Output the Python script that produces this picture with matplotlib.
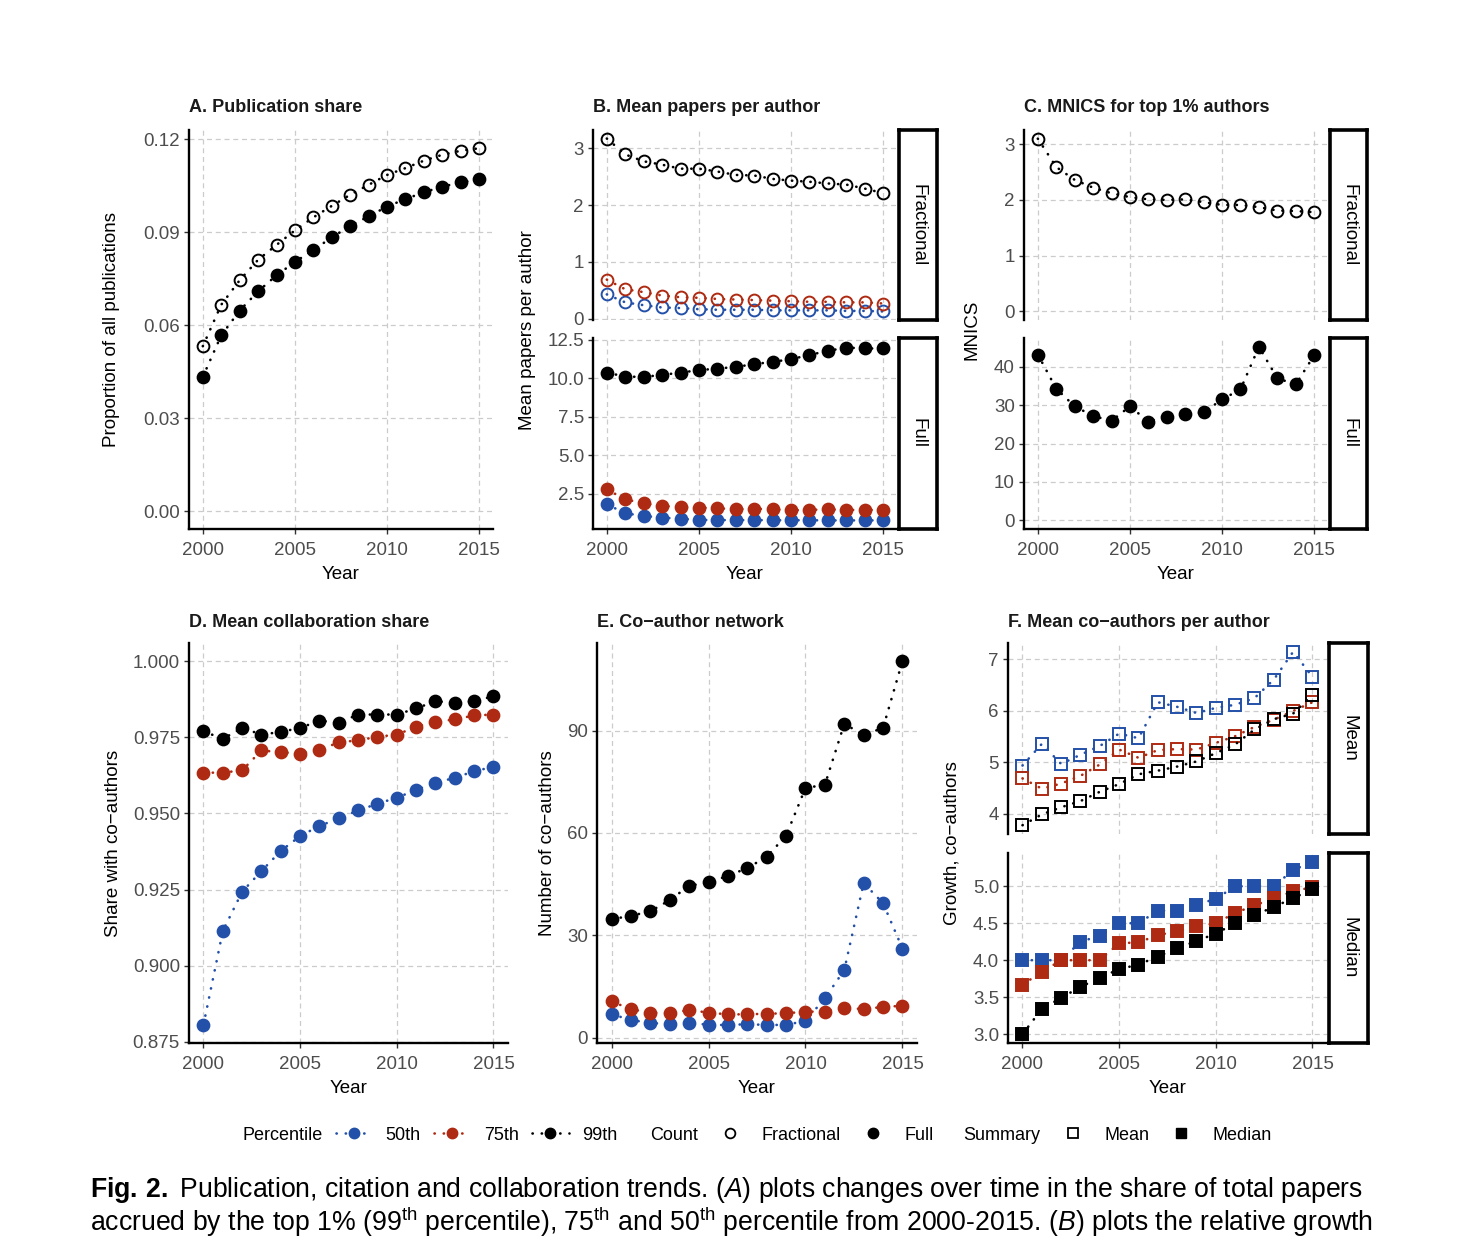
import numpy as np
import matplotlib
matplotlib.use('Agg')
import matplotlib.pyplot as plt
from matplotlib.lines import Line2D

plt.rcParams['font.family'] = ['Liberation Sans', 'DejaVu Sans']
plt.rcParams['mathtext.fontset'] = 'custom'
plt.rcParams['mathtext.rm'] = 'Liberation Sans'
plt.rcParams['mathtext.it'] = 'Liberation Sans:italic'
plt.rcParams['mathtext.bf'] = 'Liberation Sans:bold'

years = np.arange(2000, 2016)

# A. publication share (99th)
a_frac = [0.0532, 0.0666, 0.0745, 0.0811, 0.0859, 0.0906, 0.0948, 0.0985,
          0.1021, 0.1053, 0.1085, 0.1107, 0.1131, 0.1150, 0.1163, 0.1171]
a_full = [0.0433, 0.0567, 0.0647, 0.0709, 0.0761, 0.0804, 0.0843, 0.0883,
          0.0921, 0.0951, 0.0983, 0.1007, 0.1029, 0.1047, 0.1061, 0.1071]

# B. mean papers per author
b_frac_99 = [3.17, 2.89, 2.77, 2.71, 2.64, 2.64, 2.59, 2.53, 2.52, 2.46, 2.43, 2.41, 2.38, 2.36, 2.29, 2.21]
b_frac_75 = [0.69, 0.52, 0.47, 0.41, 0.38, 0.37, 0.35, 0.34, 0.33, 0.32, 0.31, 0.30, 0.30, 0.29, 0.29, 0.27]
b_frac_50 = [0.43, 0.29, 0.24, 0.20, 0.19, 0.17, 0.16, 0.16, 0.16, 0.15, 0.15, 0.15, 0.15, 0.14, 0.14, 0.13]
b_full_99 = [10.37, 10.11, 10.09, 10.22, 10.37, 10.53, 10.63, 10.74, 10.92, 11.07, 11.24, 11.52, 11.78, 12.0, 11.94, 11.94]
b_full_75 = [2.78, 2.13, 1.87, 1.70, 1.63, 1.59, 1.55, 1.48, 1.52, 1.48, 1.42, 1.44, 1.48, 1.44, 1.44, 1.44]
b_full_50 = [1.81, 1.22, 1.05, 0.94, 0.87, 0.79, 0.78, 0.78, 0.78, 0.77, 0.77, 0.77, 0.76, 0.76, 0.76, 0.76]

# C. MNICS for top 1%
c_frac = [3.10, 2.59, 2.36, 2.22, 2.12, 2.05, 2.01, 2.00, 2.01, 1.96, 1.91, 1.91, 1.87, 1.81, 1.80, 1.78]
c_full = [43.2, 34.3, 29.7, 27.2, 25.9, 29.7, 25.7, 27.0, 27.6, 28.1, 31.5, 34.1, 45.2, 37.0, 35.4, 43.0]

# D. mean collaboration share
d_99 = [0.9770, 0.9745, 0.9781, 0.9759, 0.9768, 0.9781, 0.9805, 0.9798,
        0.9825, 0.9825, 0.9825, 0.9845, 0.9869, 0.9863, 0.9869, 0.9885]
d_75 = [0.9634, 0.9634, 0.9642, 0.9707, 0.9701, 0.9697, 0.9708, 0.9734,
        0.9740, 0.9752, 0.9759, 0.9785, 0.9801, 0.9809, 0.9822, 0.9825]
d_50 = [0.8806, 0.9114, 0.9243, 0.9311, 0.9377, 0.9426, 0.9459, 0.9484,
        0.9510, 0.9532, 0.9552, 0.9577, 0.9601, 0.9617, 0.9639, 0.9653]

# E. co-author network
e_99 = [34.7, 35.7, 37.0, 40.3, 44.5, 45.5, 47.4, 49.7, 53.0, 59.2, 73.2, 74.1, 92.0, 88.7, 90.8, 110.4]
e_75 = [10.6, 8.3, 7.3, 7.1, 8.1, 7.3, 6.8, 6.8, 7.0, 7.1, 7.6, 7.6, 8.8, 8.3, 9.0, 9.3]
e_50 = [6.8, 5.2, 4.2, 4.1, 4.4, 3.7, 3.7, 3.9, 3.7, 3.7, 4.9, 11.5, 19.8, 45.3, 39.4, 26.1]

# F. mean co-authors per author
f_mean_50 = [4.94, 5.36, 4.97, 5.15, 5.32, 5.56, 5.47, 6.17, 6.08, 5.96, 6.06, 6.12, 6.25, 6.61, 7.15, 6.66]
f_mean_75 = [4.69, 4.49, 4.59, 4.74, 4.96, 5.25, 5.09, 5.24, 5.26, 5.25, 5.38, 5.51, 5.69, 5.83, 6.00, 6.17]
f_mean_99 = [3.78, 3.99, 4.13, 4.25, 4.43, 4.58, 4.77, 4.84, 4.92, 5.02, 5.18, 5.35, 5.64, 5.84, 5.95, 6.31]
f_med_50 = [4.0, 4.0, 4.0, 4.25, 4.33, 4.5, 4.5, 4.67, 4.67, 4.75, 4.83, 5.0, 5.0, 5.0, 5.22, 5.33]
f_med_75 = [3.67, 3.84, 4.0, 4.0, 4.0, 4.23, 4.24, 4.34, 4.39, 4.46, 4.5, 4.64, 4.74, 4.84, 4.93, 4.99]
f_med_99 = [3.0, 3.34, 3.49, 3.64, 3.76, 3.88, 3.94, 4.05, 4.16, 4.26, 4.36, 4.5, 4.61, 4.72, 4.84, 4.96]

BLUE = '#2350A8'
RED = '#AE2A12'
BLACK = '#000000'
TICKC = '#4D4D4D'

W, H = 1475, 1239
fig = plt.figure(figsize=(W / 100, H / 100), dpi=100)


def px_axes(l, t, r, b):
    return fig.add_axes([l / W, 1 - b / H, (r - l) / W, (b - t) / H])


def style(ax, ylim, yticks, ylabels, show_x=True):
    ax.set_xlim(1999.25, 2015.75)
    ax.set_xticks([2000, 2005, 2010, 2015])
    ax.set_ylim(*ylim)
    ax.set_yticks(yticks)
    ax.set_yticklabels(ylabels)
    ax.grid(True, color='#CCCCCC', linestyle=(0, (4, 3)), lw=0.9)
    ax.set_axisbelow(True)
    ax.spines['top'].set_visible(False)
    ax.spines['right'].set_visible(False)
    ax.spines['left'].set_linewidth(1.7)
    ax.spines['bottom'].set_linewidth(1.7)
    ax.tick_params(labelsize=13.5, labelcolor=TICKC, color='#333333', length=3.5, width=1, pad=3)
    ax.tick_params(axis='x', pad=6)
    if show_x:
        ax.set_xlabel('Year', fontsize=13.5, labelpad=5)
    else:
        ax.spines['bottom'].set_visible(False)
        ax.tick_params(axis='x', length=0, labelbottom=False)


def series(ax, y, color, marker='o', filled=True, ms=8.5):
    ax.plot(years, y, linestyle=(0, (0.1, 3.4)), dash_capstyle='round', lw=1.9,
            color=color, marker=marker, ms=ms,
            mfc=color if filled else 'none', mec=color, mew=1.4, zorder=3)


def strip(l, t, r, b, label):
    sx = px_axes(l, t, r, b)
    sx.set_xticks([])
    sx.set_yticks([])
    for s in sx.spines.values():
        s.set_linewidth(2.6)
    sx.text(0.5, 0.5, label, rotation=270, ha='center', va='center', fontsize=13.5,
            transform=sx.transAxes)


# Panel A
ax = px_axes(189, 130, 493, 529)
series(ax, a_frac, BLACK, 'o', False, 8.5)
series(ax, a_full, BLACK, 'o', True)
style(ax, (-0.0058, 0.123), [0, 0.03, 0.06, 0.09, 0.12], ['0.00', '0.03', '0.06', '0.09', '0.12'])
ax.set_ylabel('Proportion of all publications', fontsize=13.5, labelpad=17)
fig.text(189 / W, 1 - 112 / H, 'A. Publication share', fontsize=13, fontweight='bold', color='#1a1a1a')

# Panel B
ax1 = px_axes(593, 130, 897, 320)
series(ax1, b_frac_50, BLUE, 'o', False, 8.5)
series(ax1, b_frac_75, RED, 'o', False, 8.5)
series(ax1, b_frac_99, BLACK, 'o', False, 8.5)
style(ax1, (-0.02, 3.32), [0, 1, 2, 3], ['0', '1', '2', '3'], show_x=False)
ax2 = px_axes(593, 338, 897, 529)
series(ax2, b_full_50, BLUE)
series(ax2, b_full_75, RED)
series(ax2, b_full_99, BLACK)
style(ax2, (0.2, 12.62), [2.5, 5, 7.5, 10, 12.5], ['2.5', '5.0', '7.5', '10.0', '12.5'])
strip(899, 130, 937, 320, 'Fractional')
strip(899, 338, 937, 529, 'Full')
fig.text(528 / W, 1 - 330 / H, 'Mean papers per author', rotation=90, fontsize=13.5,
         ha='center', va='center')
fig.text(593 / W, 1 - 112 / H, 'B. Mean papers per author', fontsize=13, fontweight='bold', color='#1a1a1a')

# Panel C
ax1 = px_axes(1024, 130, 1328, 320)
series(ax1, c_frac, BLACK, 'o', False, 8.5)
style(ax1, (-0.155, 3.255), [0, 1, 2, 3], ['0', '1', '2', '3'], show_x=False)
ax2 = px_axes(1024, 338, 1328, 529)
series(ax2, c_full, BLACK)
style(ax2, (-2.26, 47.5), [0, 10, 20, 30, 40], ['0', '10', '20', '30', '40'])
strip(1330, 130, 1367, 320, 'Fractional')
strip(1330, 338, 1367, 529, 'Full')
fig.text(972 / W, 1 - 330 / H, 'MNICS', rotation=90, fontsize=13.5, ha='center', va='center')
fig.text(1024 / W, 1 - 112 / H, 'C. MNICS for top 1% authors', fontsize=13, fontweight='bold', color='#1a1a1a')

# Panel D
ax = px_axes(189, 643, 508, 1043)
series(ax, d_50, BLUE)
series(ax, d_75, RED)
series(ax, d_99, BLACK)
style(ax, (0.8746, 1.006), [0.875, 0.9, 0.925, 0.95, 0.975, 1.0],
      ['0.875', '0.900', '0.925', '0.950', '0.975', '1.000'])
ax.set_ylabel('Share with co\u2212authors', fontsize=13.5, labelpad=8)
fig.text(189 / W, 1 - 627 / H, 'D. Mean collaboration share', fontsize=13, fontweight='bold', color='#1a1a1a')

# Panel E
ax = px_axes(597, 643, 917, 1043)
series(ax, e_50, BLUE)
series(ax, e_75, RED)
series(ax, e_99, BLACK)
style(ax, (-1.6, 115.7), [0, 30, 60, 90], ['0', '30', '60', '90'])
ax.set_ylabel('Number of co\u2212authors', fontsize=13.5, labelpad=8)
fig.text(597 / W, 1 - 627 / H, 'E. Co\u2212author network', fontsize=13, fontweight='bold', color='#1a1a1a')

# Panel F
ax1 = px_axes(1008, 643, 1327, 834)
series(ax1, f_mean_50, BLUE, 's', False, 8.5)
series(ax1, f_mean_75, RED, 's', False, 8.5)
series(ax1, f_mean_99, BLACK, 's', False, 8.5)
style(ax1, (3.61, 7.32), [4, 5, 6, 7], ['4', '5', '6', '7'], show_x=False)
ax2 = px_axes(1008, 853, 1327, 1043)
series(ax2, f_med_50, BLUE, 's', True, 8.5)
series(ax2, f_med_75, RED, 's', True, 8.5)
series(ax2, f_med_99, BLACK, 's', True, 8.5)
style(ax2, (2.88, 5.45), [3, 3.5, 4, 4.5, 5], ['3.0', '3.5', '4.0', '4.5', '5.0'])
strip(1329, 643, 1368, 834, 'Mean')
strip(1329, 853, 1368, 1043, 'Median')
fig.text(952 / W, 1 - 843 / H, 'Growth, co\u2212authors', rotation=90, fontsize=13.5,
         ha='center', va='center')
fig.text(1008 / W, 1 - 627 / H, 'F. Mean co\u2212authors per author', fontsize=13, fontweight='bold', color='#1a1a1a')

# Legend row
ly = 1 - 1135 / H
leg_kw = dict(frameon=False, fontsize=13, handlelength=2.0, handletextpad=0.75,
              columnspacing=0.75, borderpad=0, borderaxespad=0, loc='center left')
dot = dict(linestyle=(0, (0.1, 3.4)), dash_capstyle='round', lw=1.9)
h_pct = [Line2D([], [], color=c, marker='o', ms=7.5, **dot) for c in (BLUE, RED, BLACK)]
fig.text(242 / W, ly, 'Percentile', fontsize=13, va='center')
fig.legend(h_pct, ['50th', '75th', '99th'], ncol=3, bbox_to_anchor=(336 / W, ly), **leg_kw)

h_cnt = [Line2D([], [], color=BLACK, marker='o', ms=7, mfc='none', mew=1.3, linestyle='none'),
         Line2D([], [], color=BLACK, marker='o', ms=7.5, linestyle='none')]
fig.text(650 / W, ly, 'Count', fontsize=13, va='center')
fig.legend(h_cnt, ['Fractional', 'Full'], ncol=2, bbox_to_anchor=(712 / W, ly), **leg_kw)

h_sum = [Line2D([], [], color=BLACK, marker='s', ms=7, mfc='none', mew=1.3, linestyle='none'),
         Line2D([], [], color=BLACK, marker='s', ms=7.5, linestyle='none')]
fig.text(963 / W, ly, 'Summary', fontsize=13, va='center')
fig.legend(h_sum, ['Mean', 'Median'], ncol=2, bbox_to_anchor=(1055 / W, ly), **leg_kw)

# Caption
cap1 = (r'$\mathbf{Fig.\,2.}$ Publication, citation and collaboration trends. '
        r'($\mathit{A}$) plots changes over time in the share of total papers')
cap2 = (r'accrued by the top 1% (99$^{\mathrm{th}}$ percentile), 75$^{\mathrm{th}}$ and '
        r'50$^{\mathrm{th}}$ percentile from 2000-2015. ($\mathit{B}$) plots the relative growth')
fig.text(90 / W, 1 - 1197 / H, cap1, fontsize=19.2, va='baseline')
fig.text(90 / W, 1 - 1231 / H, cap2, fontsize=19.2, va='baseline')

fig.savefig('out.png', dpi=100, facecolor='white')
